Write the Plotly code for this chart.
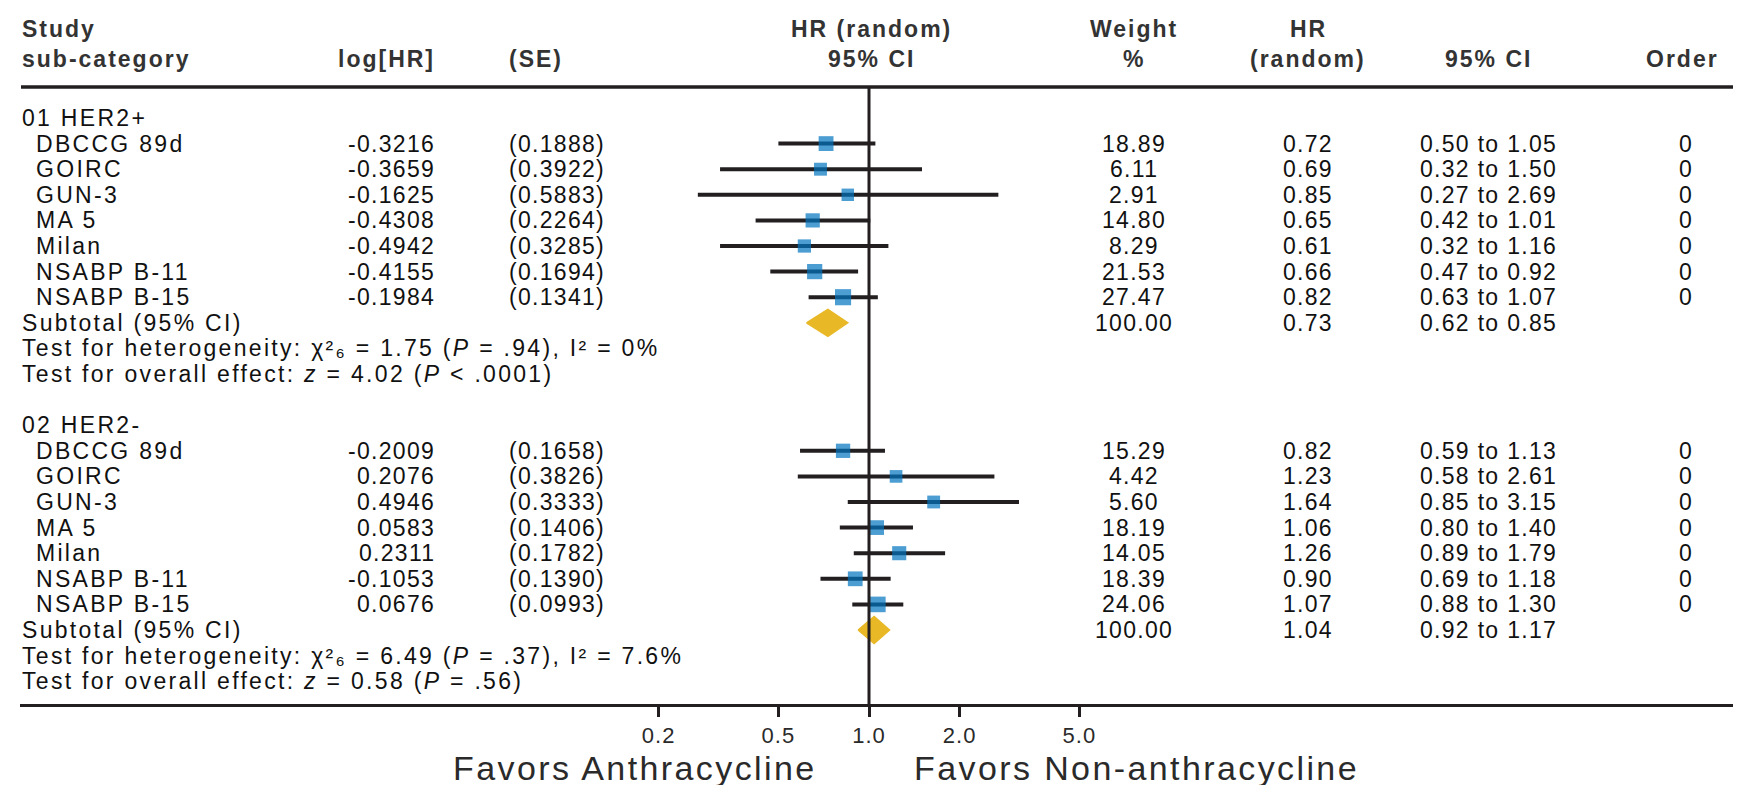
import plotly.graph_objects as go

# ---------------- data ----------------
studies = ["DBCCG 89d", "GOIRC", "GUN-3", "MA 5", "Milan", "NSABP B-11", "NSABP B-15"]
group_names = ["01 HER2+", "02 HER2-"]

log_hr_pos = [-0.3216, -0.3659, -0.1625, -0.4308, -0.4942, -0.4155, -0.1984]
se_pos = [0.1888, 0.3922, 0.5883, 0.2264, 0.3285, 0.1694, 0.1341]
weight_pos = [18.89, 6.11, 2.91, 14.80, 8.29, 21.53, 27.47]
hr_pos = [0.72, 0.69, 0.85, 0.65, 0.61, 0.66, 0.82]
lo_pos = [0.50, 0.32, 0.27, 0.42, 0.32, 0.47, 0.63]
hi_pos = [1.05, 1.50, 2.69, 1.01, 1.16, 0.92, 1.07]
order_pos = [0, 0, 0, 0, 0, 0, 0]
subtotal_pos = dict(weight=100.00, hr=0.73, lo=0.62, hi=0.85)

log_hr_neg = [-0.2009, 0.2076, 0.4946, 0.0583, 0.2311, -0.1053, 0.0676]
se_neg = [0.1658, 0.3826, 0.3333, 0.1406, 0.1782, 0.1390, 0.0993]
weight_neg = [15.29, 4.42, 5.60, 18.19, 14.05, 18.39, 24.06]
hr_neg = [0.82, 1.23, 1.64, 1.06, 1.26, 0.90, 1.07]
lo_neg = [0.59, 0.58, 0.85, 0.80, 0.89, 0.69, 0.88]
hi_neg = [1.13, 2.61, 3.15, 1.40, 1.79, 1.18, 1.30]
order_neg = [0, 0, 0, 0, 0, 0, 0]
subtotal_neg = dict(weight=100.00, hr=1.04, lo=0.92, hi=1.17)

het_texts = [
    "Test for heterogeneity: χ²₆ = 1.75 (<i>P</i> = .94), I² = 0%",
    "Test for heterogeneity: χ²₆ = 6.49 (<i>P</i> = .37), I² = 7.6%",
]
overall_texts = [
    "Test for overall effect: <i>z</i> = 4.02 (<i>P</i> &lt; .0001)",
    "Test for overall effect: <i>z</i> = 0.58 (<i>P</i> = .56)",
]

tick_vals = [0.2, 0.5, 1.0, 2.0, 5.0]
tick_text = ["0.2", "0.5", "1.0", "2.0", "5.0"]
favors_left = "Favors Anthracycline"
favors_right = "Favors Non-anthracycline"

groups = [
    dict(name=group_names[0], loghr=log_hr_pos, se=se_pos, w=weight_pos, hr=hr_pos,
         lo=lo_pos, hi=hi_pos, order=order_pos, sub=subtotal_pos,
         het=het_texts[0], overall=overall_texts[0]),
    dict(name=group_names[1], loghr=log_hr_neg, se=se_neg, w=weight_neg, hr=hr_neg,
         lo=lo_neg, hi=hi_neg, order=order_neg, sub=subtotal_neg,
         het=het_texts[1], overall=overall_texts[1]),
]

# ---------------- layout constants (pixels) ----------------
W, H = 1741, 785
ROW0 = 110.0        # y of first group label
PITCH = 25.6        # row pitch
TOP_LINE_Y = 79
AXIS_Y = 697
X_LEFT, X_RIGHT = 12, 1733
X_ONE = 861         # pixel of HR = 1
PX_DECADE = 301

r0 = -(X_ONE - X_LEFT) / PX_DECADE
r1 = (X_RIGHT - X_ONE) / PX_DECADE

INK = "#231f20"
TXT = "#111111"
BLUE = "#0073bf"
GOLD = "#e8b826"
FONT = "Liberation Sans, Arial, sans-serif"

COL_NAME_GROUP = 13
COL_NAME = 27
COL_LOGHR = 428
COL_SE = 500
COL_W = 1126
COL_HR = 1300
COL_CI = 1480
COL_ORDER = 1678

fig = go.Figure()
annotations = []


def txt(x, y, s, anchor="left", size=23, color=TXT, bold=False, ls=2.3):
    if bold:
        s = "<b>" + s + "</b>"
    annotations.append(dict(
        x=x / W, xref="paper", y=y, yref="y",
        text='<span style="letter-spacing:%spx">%s</span>' % (ls, s),
        showarrow=False, xanchor=anchor, yanchor="middle",
        font=dict(family=FONT, size=size, color=color),
        borderpad=0,
    ))


NUM_LS = 1.3

# header
HDR1, HDR2 = 21, 51
hdr_col = "#333333"
txt(COL_NAME_GROUP, HDR1, "Study", bold=True, color=hdr_col, ls=2)
txt(COL_NAME_GROUP, HDR2, "sub-category", bold=True, color=hdr_col, ls=2)
txt(COL_LOGHR, HDR2, "log[HR]", anchor="right", bold=True, color=hdr_col, ls=2)
txt(COL_SE, HDR2, "(SE)", bold=True, color=hdr_col, ls=2)
txt(X_ONE + 2, HDR1, "HR (random)", anchor="center", bold=True, color=hdr_col, ls=2)
txt(X_ONE + 2, HDR2, "95% CI", anchor="center", bold=True, color=hdr_col, ls=2)
txt(COL_W, HDR1, "Weight", anchor="center", bold=True, color=hdr_col, ls=2)
txt(COL_W, HDR2, "%", anchor="center", bold=True, color=hdr_col, ls=2)
txt(COL_HR, HDR1, "HR", anchor="center", bold=True, color=hdr_col, ls=2)
txt(COL_HR, HDR2, "(random)", anchor="center", bold=True, color=hdr_col, ls=2)
txt(COL_CI, HDR2, "95% CI", anchor="center", bold=True, color=hdr_col, ls=2)
txt(COL_ORDER - 4, HDR2, "Order", anchor="center", bold=True, color=hdr_col, ls=2)

row = 0
for g in groups:
    y_label = ROW0 + PITCH * row
    txt(COL_NAME_GROUP, y_label, g["name"])
    ys = [ROW0 + PITCH * (row + 1 + i) for i in range(len(studies))]
    for i, s in enumerate(studies):
        y = ys[i]
        txt(COL_NAME, y, s)
        txt(COL_LOGHR, y, "%.4f" % g["loghr"][i], anchor="right", ls=NUM_LS)
        txt(COL_SE, y, "(%.4f)" % g["se"][i], ls=NUM_LS)
        txt(COL_W, y, "%.2f" % g["w"][i], anchor="center", ls=NUM_LS)
        txt(COL_HR, y, "%.2f" % g["hr"][i], anchor="center", ls=NUM_LS)
        txt(COL_CI, y, "%.2f to %.2f" % (g["lo"][i], g["hi"][i]), anchor="center", ls=NUM_LS)
        txt(COL_ORDER, y, "%d" % g["order"][i], anchor="center", ls=NUM_LS)

    # CI lines
    cx, cy = [], []
    for i in range(len(studies)):
        cx += [g["lo"][i], g["hi"][i], None]
        cy += [ys[i], ys[i], None]
    fig.add_trace(go.Scatter(x=cx, y=cy, mode="lines",
                             line=dict(color=INK, width=4), hoverinfo="skip"))
    # squares sized by weight
    fig.add_trace(go.Scatter(x=g["hr"], y=ys, mode="markers",
                             marker=dict(symbol="square", color=BLUE,
                                         size=[12 + 0.15 * w for w in g["w"]],
                                         line=dict(width=0)),
                             hoverinfo="skip"))

    # subtotal
    y_sub = ROW0 + PITCH * (row + 1 + len(studies))
    sub = g["sub"]
    txt(COL_NAME_GROUP, y_sub, "Subtotal (95% CI)")
    txt(COL_W, y_sub, "%.2f" % sub["weight"], anchor="center", ls=NUM_LS)
    txt(COL_HR, y_sub, "%.2f" % sub["hr"], anchor="center", ls=NUM_LS)
    txt(COL_CI, y_sub, "%.2f to %.2f" % (sub["lo"], sub["hi"]), anchor="center", ls=NUM_LS)
    dh = 13.5
    fig.add_trace(go.Scatter(
        x=[sub["lo"], sub["hr"], sub["hi"], sub["hr"], sub["lo"]],
        y=[y_sub, y_sub - dh, y_sub, y_sub + dh, y_sub],
        mode="lines", fill="toself", fillcolor=GOLD,
        line=dict(color=GOLD, width=1.5), hoverinfo="skip"))

    y_het = y_sub + PITCH
    y_ov = y_het + PITCH
    txt(COL_NAME_GROUP, y_het, g["het"])
    txt(COL_NAME_GROUP, y_ov, g["overall"])
    row += len(studies) + 5

# bottom labels
FAV_Y = 760
txt(810, FAV_Y, favors_left, anchor="right", size=34, color="#2a2a2a", ls=2.4)
txt(905, FAV_Y, favors_right, anchor="left", size=34, color="#2a2a2a", ls=2.4)

shapes = [
    dict(type="line", xref="paper", yref="y", x0=13 / W, x1=X_RIGHT / W,
         y0=TOP_LINE_Y, y1=TOP_LINE_Y, line=dict(color=INK, width=3.5)),
    dict(type="line", xref="x", yref="y", x0=1, x1=1, y0=TOP_LINE_Y, y1=AXIS_Y,
         line=dict(color=INK, width=3)),
    dict(type="rect", xref="paper", yref="paper", x0=1735 / W, x1=1, y0=0, y1=1,
         fillcolor="#0c0c5e", line=dict(width=0)),
]

fig.update_layout(
    template="none",
    width=W, height=H,
    margin=dict(l=0, r=0, t=0, b=0),
    paper_bgcolor="white", plot_bgcolor="rgba(0,0,0,0)",
    showlegend=False,
    annotations=annotations,
    shapes=shapes,
    xaxis=dict(
        type="log", range=[r0, r1], domain=[X_LEFT / W, X_RIGHT / W],
        anchor="free", position=1 - AXIS_Y / H,
        showline=True, linecolor=INK, linewidth=3,
        ticks="outside", ticklen=10, tickwidth=2.5, tickcolor=INK,
        tickvals=tick_vals,
        ticktext=['<span style="letter-spacing:1px">%s</span>' % t for t in tick_text],
        tickfont=dict(family=FONT, size=22, color="#2a2a2a"),
        showgrid=False, zeroline=False, automargin=False, fixedrange=True,
    ),
    yaxis=dict(range=[H, 0], domain=[0, 1], visible=False, showgrid=False,
               zeroline=False, automargin=False, fixedrange=True),
)

fig.write_html("out.html")
